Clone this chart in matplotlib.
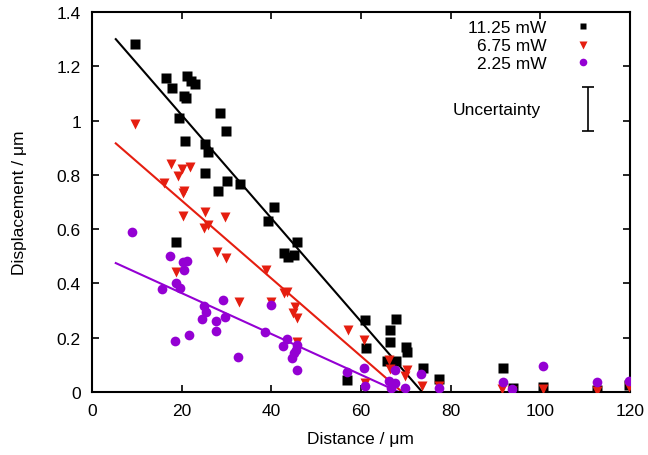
import numpy as np
import matplotlib
matplotlib.use("Agg")
import matplotlib.pyplot as plt

plt.rcParams['font.family'] = ['Liberation Sans', 'DejaVu Sans']
FS = 12.5

# 11.25 mW (black squares)
x_hi = [9.7, 16.5, 17.9, 21.2, 22.0, 22.9, 20.5, 20.9, 19.3, 28.6, 20.7, 25.3, 25.9, 25.1,
        28.0, 18.8, 30.0, 30.2, 33.1, 40.5, 39.2, 45.7, 42.8, 43.7, 45.1, 60.9, 67.8, 66.4,
        61.1, 66.4, 70.0, 70.2, 65.8, 67.9, 73.8, 77.4, 56.8, 91.7, 93.9, 100.6, 112.6, 119.8]
y_hi = [1.281, 1.156, 1.119, 1.166, 1.147, 1.135, 1.092, 1.082, 1.008, 1.027, 0.924, 0.914, 0.885, 0.807,
        0.739, 0.552, 0.961, 0.776, 0.765, 0.680, 0.629, 0.552, 0.511, 0.496, 0.505, 0.264, 0.271, 0.227,
        0.161, 0.183, 0.165, 0.146, 0.114, 0.115, 0.088, 0.047, 0.044, 0.087, 0.014, 0.018, 0.009, 0.026]

# 6.75 mW (red triangles)
x_mid = [9.5, 17.6, 19.1, 20.0, 21.8, 16.1, 20.6, 20.4, 20.4, 25.1, 25.0, 25.8, 27.9, 18.7,
         29.7, 29.9, 38.9, 42.8, 43.6, 32.7, 40.0, 45.4, 44.8, 45.8, 45.7, 57.1, 60.6, 66.2,
         66.4, 70.2, 69.8, 60.9, 73.7, 77.4, 91.5, 93.8, 100.6, 112.6, 119.8]
y_mid = [0.989, 0.840, 0.797, 0.822, 0.828, 0.769, 0.742, 0.732, 0.650, 0.664, 0.604, 0.615, 0.517, 0.443,
         0.644, 0.494, 0.450, 0.365, 0.370, 0.333, 0.333, 0.312, 0.290, 0.272, 0.183, 0.230, 0.190, 0.119,
         0.085, 0.083, 0.060, 0.033, 0.023, 0.023, 0.011, 0.004, 0.011, 0.005, 0.020]

# 2.25 mW (purple circles)
x_lo = [9.0, 17.3, 20.2, 21.3, 20.5, 18.7, 15.7, 19.7, 24.9, 25.5, 24.6, 27.7, 27.6, 21.7,
        18.5, 29.3, 29.7, 32.6, 40.0, 38.7, 43.4, 42.5, 45.7, 45.5, 45.1, 44.6, 45.7, 56.9,
        60.6, 60.9, 66.2, 67.7, 67.7, 66.6, 69.9, 73.5, 77.4, 91.7, 93.8, 100.6, 112.6, 119.8]
y_lo = [0.591, 0.502, 0.478, 0.484, 0.451, 0.402, 0.380, 0.382, 0.318, 0.294, 0.268, 0.263, 0.226, 0.211,
        0.189, 0.339, 0.277, 0.131, 0.322, 0.222, 0.195, 0.168, 0.174, 0.155, 0.144, 0.125, 0.081, 0.073,
        0.087, 0.022, 0.042, 0.082, 0.033, 0.014, 0.014, 0.066, 0.015, 0.038, 0.011, 0.095, 0.037, 0.039]

# linear fits (slope, intercept), drawn from x=5.3 down to zero displacement
fit_start = 5.3
fit_hi = (-0.01901, 1.4007)
fit_mid = (-0.01433, 0.992)
fit_lo = (-0.00752, 0.515)

labels = ['11.25 mW', '6.75 mW', '2.25 mW']
colors = ['black', '#e51e10', '#9400d3']
markers = ['s', 'v', 'o']
msizes = [6.5, 7, 7]

fig = plt.figure(figsize=(6.48, 4.56), dpi=100)
ax = fig.add_axes([0.142, 0.138, 0.830, 0.8335])

series = [(x_hi, y_hi, fit_hi), (x_mid, y_mid, fit_mid), (x_lo, y_lo, fit_lo)]
for (xs, ys, (m, b)), c, mk, ms in zip(series, colors, markers, msizes):
    ax.plot(xs, ys, linestyle='none', marker=mk, color=c, markersize=ms, mec='none', zorder=3)
    xf = np.array([fit_start, -b / m])
    ax.plot(xf, m * xf + b, color=c, lw=1.5, zorder=2)

# hand-made key, gnuplot style
text_y = [0.947, 0.900, 0.853]
mark_y = [0.962, 0.912, 0.869]
for lab, c, mk, ms, ty, my in zip(labels, colors, markers, msizes, text_y, mark_y):
    ax.text(0.845, ty, lab, transform=ax.transAxes, ha='right', va='baseline', fontsize=FS)
    ax.plot([0.912], [my], transform=ax.transAxes, marker=mk, color=c,
            markersize=ms - 1.5, mec='none', clip_on=False)

ax.text(0.753, 0.732, 'Uncertainty', transform=ax.transAxes, ha='center', va='baseline', fontsize=FS)
ax.errorbar([110.6], [1.043], yerr=[0.080], fmt='none', ecolor='black', elinewidth=1.2,
            capsize=4, capthick=1.2)

ax.set_xlim(0, 120)
ax.set_ylim(0, 1.4)
ax.set_xticks(np.arange(0, 121, 20))
ax.set_yticks(np.arange(0, 1.41, 0.2))
ax.set_yticklabels(['0', '0.2', '0.4', '0.6', '0.8', '1', '1.2', '1.4'])
ax.tick_params(direction='in', length=5, width=1.2, top=True, right=True, labelsize=FS, pad=8)
for s in ax.spines.values():
    s.set_linewidth(1.5)

ax.set_xlabel('Distance / μm', fontsize=FS, labelpad=9)
ax.set_ylabel('Displacement / μm', fontsize=FS, labelpad=21)

fig.savefig('out.png', dpi=100)
